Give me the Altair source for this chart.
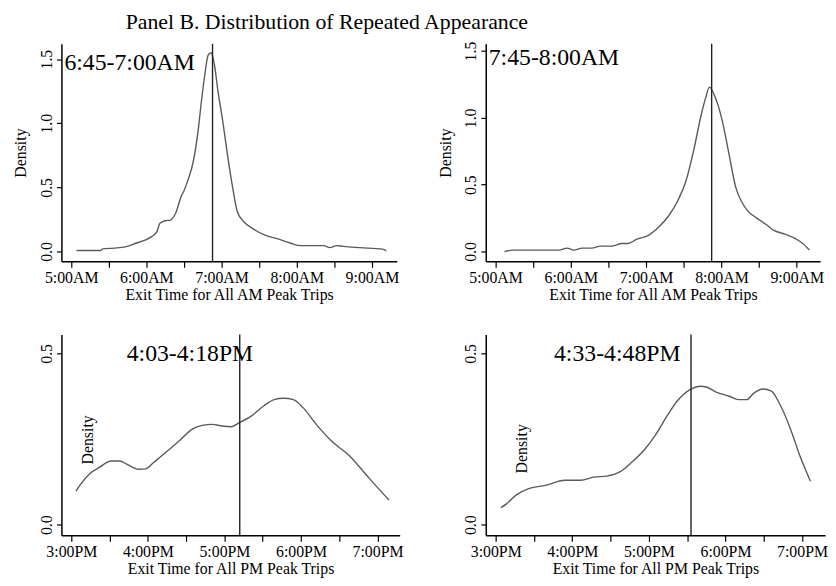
import altair as alt
import pandas as pd

FONT = "Liberation Serif"

# ---------------- data ----------------
am1_time = [5.07, 5.39, 5.42, 5.57, 5.72, 5.86, 5.99, 6.07, 6.14, 6.18, 6.25, 6.32, 6.39, 6.47,
            6.49, 6.56, 6.62, 6.69, 6.73, 6.78, 6.82, 6.86, 6.91, 6.95, 7.02, 7.08, 7.15, 7.21,
            7.30, 7.41, 7.57, 7.74, 7.92, 8.05, 8.36, 8.44, 8.53, 8.62, 8.84, 9.14, 9.19]
am1_density = [0.008, 0.008, 0.02, 0.026, 0.036, 0.064, 0.09, 0.116, 0.155, 0.22, 0.24, 0.245, 0.30, 0.44,
               0.46, 0.57, 0.69, 0.95, 1.16, 1.39, 1.53, 1.55, 1.44, 1.26, 1.00, 0.75, 0.49, 0.31,
               0.23, 0.18, 0.13, 0.10, 0.064, 0.046, 0.046, 0.03, 0.046, 0.04, 0.03, 0.018, 0.005]

am2_time = [5.12, 5.23, 5.84, 5.95, 6.04, 6.15, 6.28, 6.39, 6.54, 6.68, 6.76, 6.87, 7.03, 7.18,
            7.29, 7.42, 7.53, 7.64, 7.73, 7.79, 7.84, 7.92, 8.01, 8.10, 8.19, 8.27, 8.34, 8.47,
            8.60, 8.69, 8.84, 9.00, 9.08, 9.17]
am2_density = [0.0, 0.01, 0.01, 0.025, 0.01, 0.025, 0.025, 0.04, 0.04, 0.06, 0.06, 0.09, 0.12, 0.19,
               0.26, 0.38, 0.53, 0.78, 1.02, 1.15, 1.23, 1.15, 0.98, 0.73, 0.48, 0.37, 0.31, 0.25,
               0.20, 0.16, 0.13, 0.09, 0.06, 0.01]

pm1_time = [15.06, 15.11, 15.24, 15.37, 15.52, 15.63, 15.73, 15.88, 15.97, 16.07, 16.24, 16.41,
            16.58, 16.71, 16.84, 16.97, 17.09, 17.18, 17.35, 17.52, 17.65, 17.77, 17.90, 18.03,
            18.20, 18.41, 18.63, 18.84, 19.01, 19.15]
pm1_density = [0.098, 0.115, 0.149, 0.168, 0.186, 0.186, 0.176, 0.162, 0.163, 0.181, 0.212, 0.245,
               0.279, 0.290, 0.293, 0.288, 0.286, 0.296, 0.317, 0.348, 0.365, 0.369, 0.365, 0.341,
               0.293, 0.242, 0.202, 0.149, 0.106, 0.072]

pm2_time = [15.07, 15.14, 15.27, 15.44, 15.65, 15.90, 16.11, 16.28, 16.45, 16.62, 16.78, 16.95,
            17.08, 17.25, 17.37, 17.55, 17.67, 17.75, 17.88, 18.05, 18.17, 18.28, 18.36, 18.49,
            18.60, 18.70, 18.85, 18.97, 19.11]
pm2_density = [0.050, 0.061, 0.087, 0.106, 0.115, 0.130, 0.130, 0.139, 0.142, 0.154, 0.183, 0.221,
               0.260, 0.322, 0.361, 0.396, 0.404, 0.402, 0.387, 0.375, 0.365, 0.365, 0.382, 0.396,
               0.390, 0.356, 0.279, 0.202, 0.127]

vlines = [6.88, 7.87, 17.20, 17.55]
notes = ["6:45-7:00AM", "7:45-8:00AM", "4:03-4:18PM", "4:33-4:48PM"]
x_titles = ["Exit Time for All AM Peak Trips", "Exit Time for All AM Peak Trips",
            "Exit Time for All PM Peak Trips", "Exit Time for All PM Peak Trips"]
am_ticks = [5 + 0.25 * i for i in range(18)]
pm_ticks = [15 + 0.25 * i for i in range(18)]
y_ticks_top = [0, 0.5, 1.0, 1.5]
y_ticks_bottom = [0, 0.5]
main_title = "Panel B. Distribution of Repeated Appearance"


def panel(times, dens, xdom, ydom, yvals, vline, note, note_x, note_y, xtitle, pm, w, h,
          title_x, title_y=None):
    df = pd.DataFrame({"t": times, "d": dens})
    if pm:
        lab = "datum.value == floor(datum.value) ? (datum.value - 12) + ':00PM' : ''"
        vals = pm_ticks
    else:
        lab = "datum.value == floor(datum.value) ? datum.value + ':00AM' : ''"
        vals = am_ticks
    xax = alt.Axis(values=vals, labelExpr=lab, title=xtitle, labelFlush=False,
                   labelOverlap=False, labelBound=False, tickSize=6, labelPadding=2,
                   labelFontSize=16, titleFontSize=16, titlePadding=2)
    yargs = dict(values=yvals, format=".1f", title="Density", labelAngle=270,
                 labelAlign="center", labelBaseline="bottom", tickSize=5, labelPadding=2,
                 labelFontSize=16, titleFontSize=16, titleX=title_x)
    if title_y is not None:
        yargs["titleY"] = title_y
    yax = alt.Axis(**yargs)
    x = alt.X("t:Q", scale=alt.Scale(domain=xdom, nice=False, zero=False), axis=xax)
    y = alt.Y("d:Q", scale=alt.Scale(domain=ydom, nice=False, zero=False), axis=yax)
    line = alt.Chart(df).mark_line(color="#5a5a5a", strokeWidth=1.4,
                                   interpolate="monotone").encode(x=x, y=y)
    rule = alt.Chart(pd.DataFrame({"t": [vline]})).mark_rule(
        color="#222222", strokeWidth=1.4).encode(x=alt.X("t:Q"))
    text = alt.Chart(pd.DataFrame({"note": [note]})).mark_text(
        font=FONT, fontSize=24, align="left", baseline="alphabetic", color="black"
    ).encode(x=alt.value(note_x), y=alt.value(note_y), text="note:N")
    return alt.layer(line, rule, text).properties(width=w, height=h)


p1 = panel(am1_time, am1_density, [4.87, 9.33], [-0.077, 1.62], y_ticks_top, vlines[0],
           notes[0], 3, 27, x_titles[0], False, 339, 220, -33)
p2 = panel(am2_time, am2_density, [4.87, 9.31], [-0.074, 1.555], y_ticks_top, vlines[1],
           notes[1], 3, 21, x_titles[1], False, 338, 220, -33)
p3 = panel(pm1_time, pm1_density, [14.87, 19.29], [-0.031, 0.555], y_ticks_bottom, vlines[2],
           notes[2], 66, 27, x_titles[2], True, 342, 203, 34, 106)
p4 = panel(pm2_time, pm2_density, [14.87, 19.30], [-0.031, 0.555], y_ticks_bottom, vlines[3],
           notes[3], 69, 27, x_titles[3], True, 343, 203, 44, 115)

chart = alt.concat(p1, p2, p3, p4, columns=2, spacing={"row": 31, "column": 34}).properties(
    title=alt.TitleParams(main_title, font=FONT, fontSize=22, fontWeight="normal",
                          anchor="start", dx=114, color="black", offset=7),
    padding={"left": 5, "top": 0, "right": 0, "bottom": 0},
).configure_axis(
    grid=False, domainColor="black", domainWidth=1.5, tickColor="black", tickWidth=1.2,
    labelFont=FONT, titleFont=FONT, labelColor="black", titleColor="black",
    titleFontWeight="normal",
).configure_view(stroke=None)

chart.save("out.html", embed_options={"renderer": "svg", "actions": False})
